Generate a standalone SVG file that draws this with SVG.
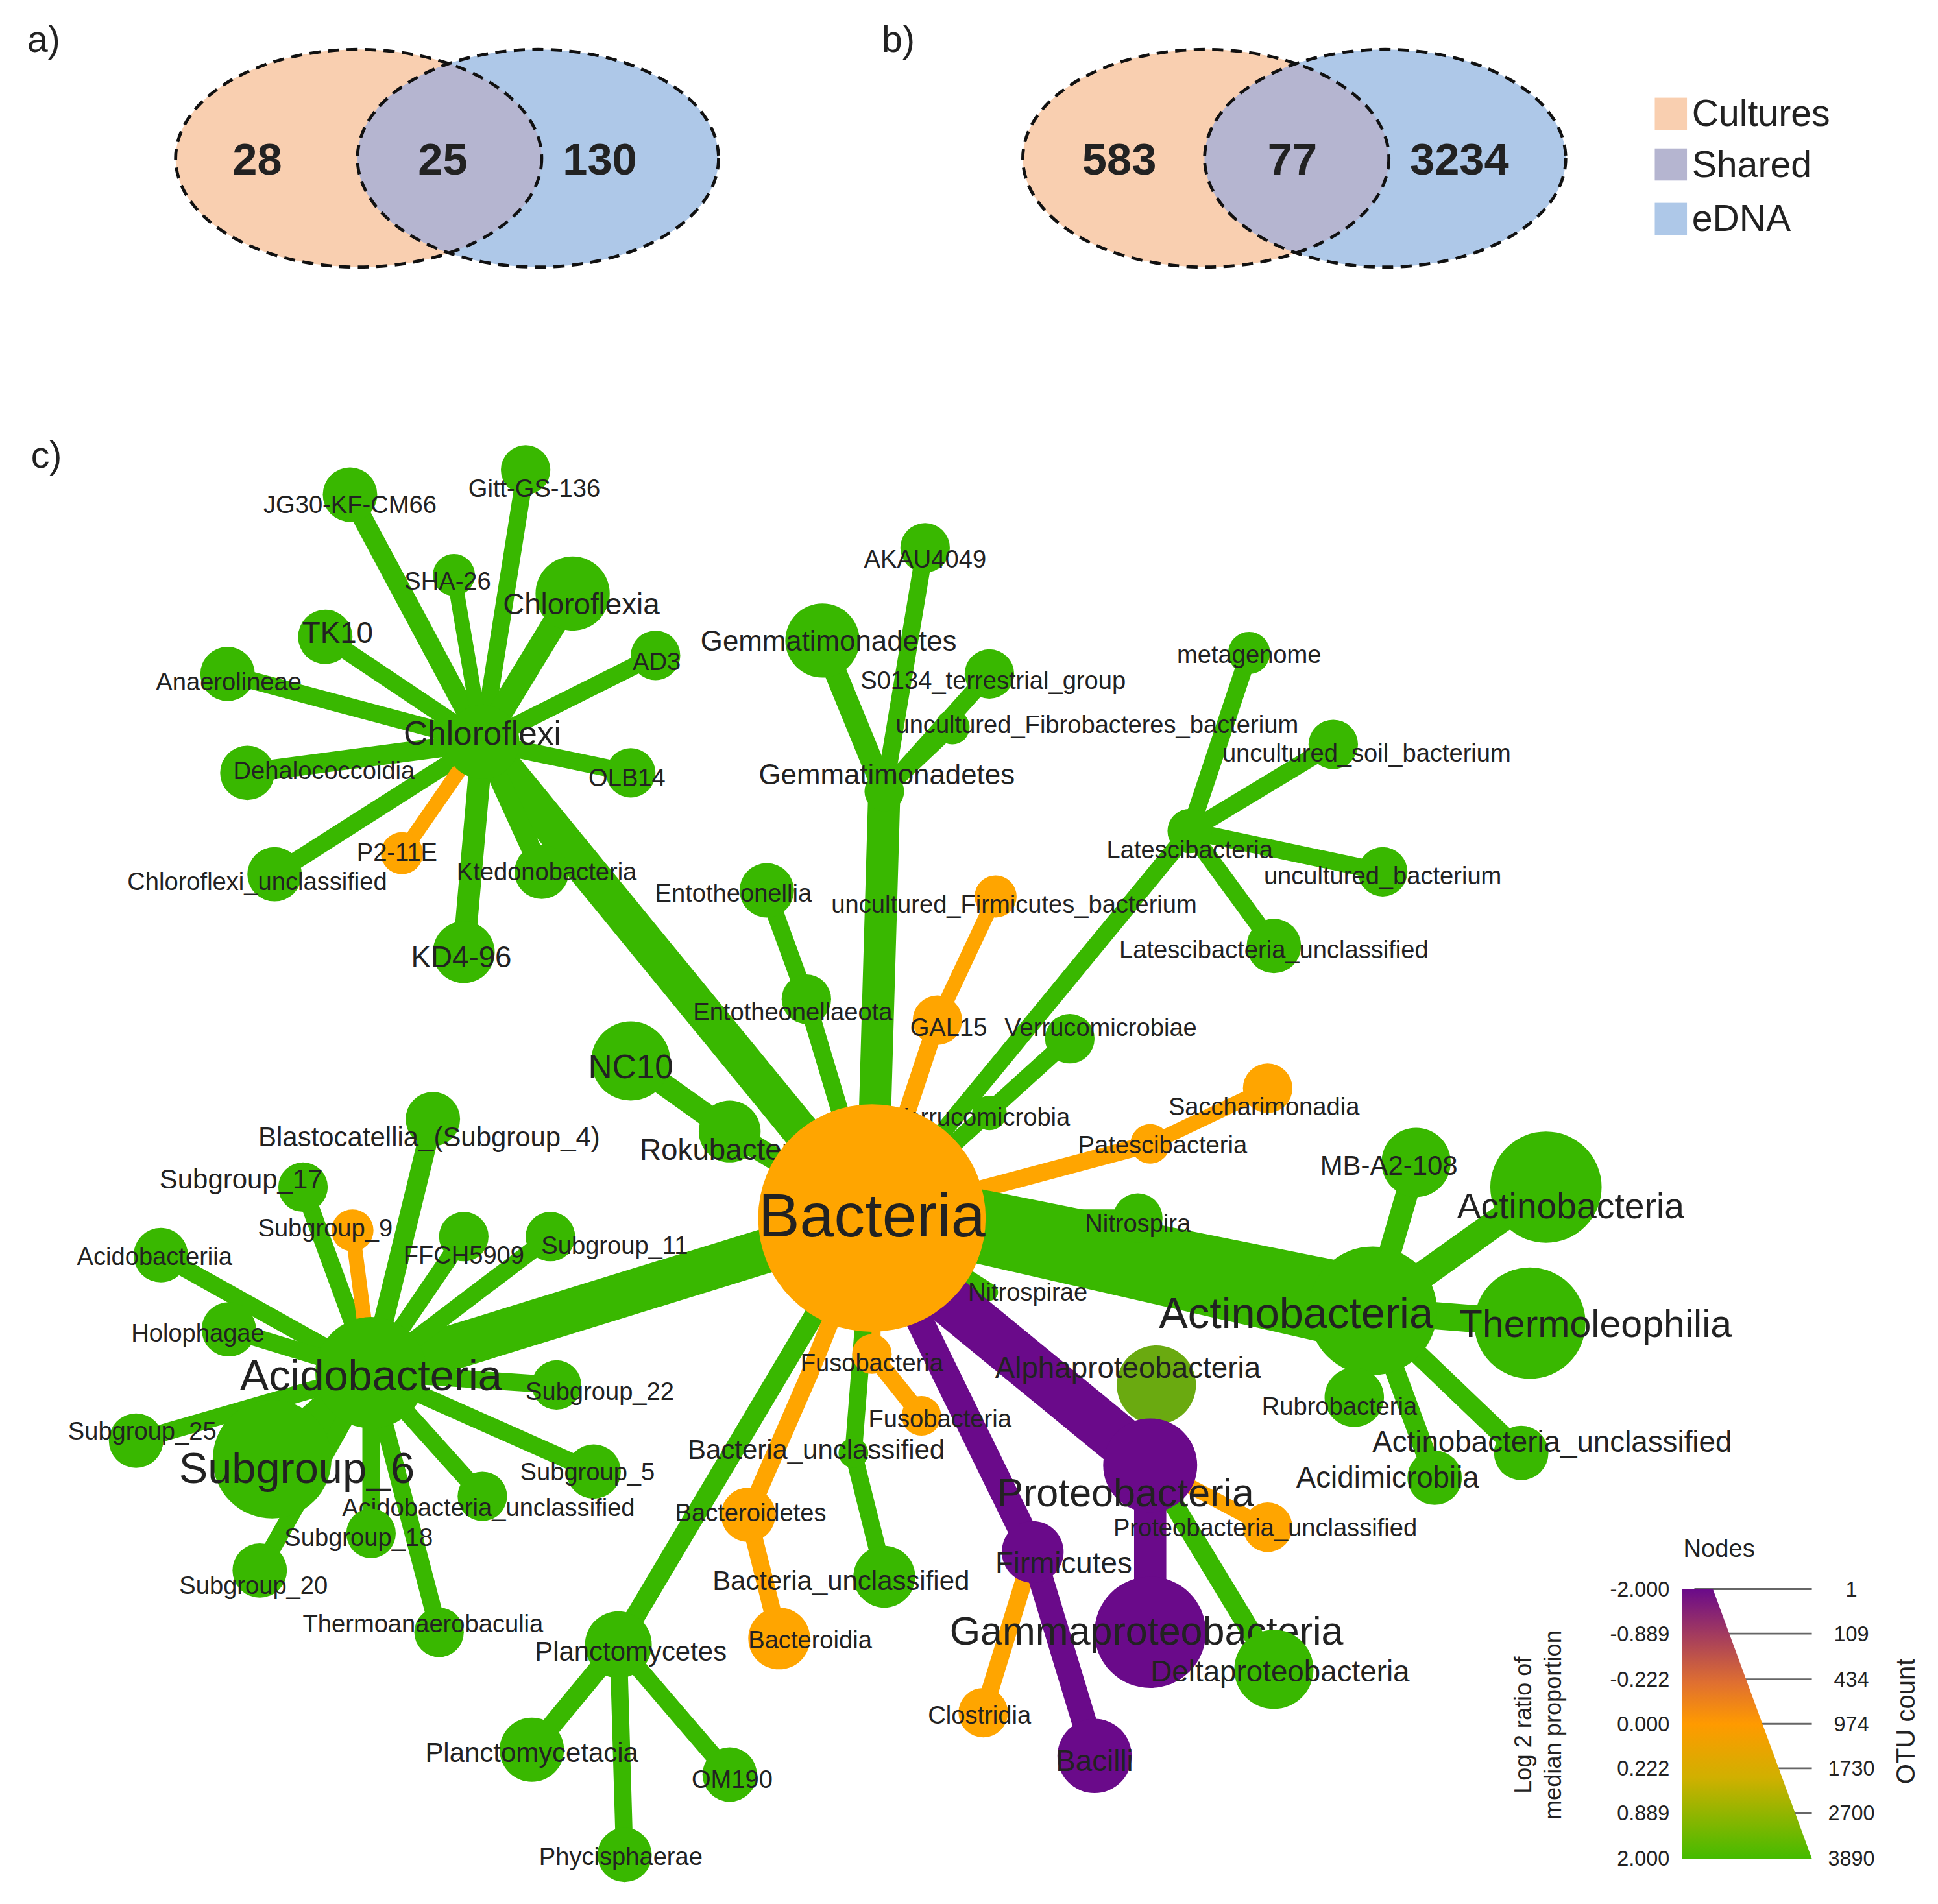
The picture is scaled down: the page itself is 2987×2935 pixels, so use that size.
<svg xmlns="http://www.w3.org/2000/svg" width="2987" height="2935" viewBox="0 0 2987 2935">
<style>
text{font-family:"Liberation Sans",Arial,sans-serif;fill:#222}
.l{font-size:20px;text-anchor:middle}
.m{font-size:24px;text-anchor:middle}
.b{font-size:32px;text-anchor:middle}
.n{font-size:36px;font-weight:bold;text-anchor:middle}
.g{fill:#39b800}.o{fill:#ffa500}.p{fill:#6a0a8a}.y{fill:#6aaa10}
.eg{stroke:#39b800;stroke-linecap:round;fill:none}
.eo{stroke:#ffa500;stroke-linecap:round;fill:none}
.ep{stroke:#6a0a8a;stroke-linecap:round;fill:none}
.ey{stroke:#6aaa10;stroke-linecap:round;fill:none}
.tk{stroke:#666;stroke-width:1.5}
.v{stroke:#111;stroke-width:2.5;stroke-dasharray:9 6;fill:none}
</style>
<defs>
<linearGradient id="grad" x1="0" y1="0" x2="0" y2="1">
<stop offset="0" stop-color="#6a0a8a"/><stop offset="0.35" stop-color="#e07030"/><stop offset="0.5" stop-color="#ff9a00"/><stop offset="0.7" stop-color="#d0b000"/><stop offset="1" stop-color="#44bb00"/>
</linearGradient>
<clipPath id="ca"><ellipse cx="290" cy="128" rx="148" ry="88"/></clipPath>
<clipPath id="cb"><ellipse cx="975" cy="128" rx="148" ry="88"/></clipPath>
</defs>
<g transform="scale(1.9062)">
<g id="venn-a">
<text x="22" y="42" style="font-size:30px">a)</text>
<ellipse cx="290" cy="128" rx="148" ry="88" fill="#f9cfb0"/>
<ellipse cx="435" cy="128" rx="146" ry="88" fill="#aec8e8"/>
<ellipse cx="435" cy="128" rx="146" ry="88" fill="#b5b5d0" clip-path="url(#ca)"/>
<ellipse cx="290" cy="128" rx="148" ry="88" class="v"/>
<ellipse cx="435" cy="128" rx="146" ry="88" class="v"/>
<text x="208" y="141" class="n">28</text><text x="358" y="141" class="n">25</text><text x="485" y="141" class="n">130</text>
</g>
<g id="venn-b">
<text x="713" y="42" style="font-size:30px">b)</text>
<ellipse cx="975" cy="128" rx="148" ry="88" fill="#f9cfb0"/>
<ellipse cx="1120" cy="128" rx="146" ry="88" fill="#aec8e8"/>
<ellipse cx="1120" cy="128" rx="146" ry="88" fill="#b5b5d0" clip-path="url(#cb)"/>
<ellipse cx="975" cy="128" rx="148" ry="88" class="v"/>
<ellipse cx="1120" cy="128" rx="146" ry="88" class="v"/>
<text x="905" y="141" class="n">583</text><text x="1045" y="141" class="n">77</text><text x="1180" y="141" class="n">3234</text>
</g>
<g id="venn-legend">
<rect x="1338" y="79" width="26" height="26" fill="#f9cfb0"/><text x="1368" y="102" style="font-size:30px">Cultures</text>
<rect x="1338" y="120" width="26" height="26" fill="#b5b5d0"/><text x="1368" y="143" style="font-size:30px">Shared</text>
<rect x="1338" y="164" width="26" height="26" fill="#aec8e8"/><text x="1368" y="187" style="font-size:30px">eDNA</text>
</g>
<text x="25" y="378" style="font-size:30px">c)</text>
<g id="connectors">
<line x1="705" y1="985" x2="390" y2="600" class="eg" stroke-width="30"/>
<line x1="390" y1="600" x2="283" y2="400" class="eg" stroke-width="16"/>
<line x1="390" y1="600" x2="425" y2="380" class="eg" stroke-width="14"/>
<line x1="390" y1="600" x2="367" y2="465" class="eg" stroke-width="12"/>
<line x1="390" y1="600" x2="463" y2="480" class="eg" stroke-width="20"/>
<line x1="390" y1="600" x2="263" y2="515" class="eg" stroke-width="14"/>
<line x1="390" y1="600" x2="184" y2="545" class="eg" stroke-width="14"/>
<line x1="390" y1="600" x2="530" y2="530" class="eg" stroke-width="14"/>
<line x1="390" y1="600" x2="200" y2="625" class="eg" stroke-width="16"/>
<line x1="390" y1="600" x2="510" y2="625" class="eg" stroke-width="14"/>
<line x1="390" y1="600" x2="222" y2="707" class="eg" stroke-width="14"/>
<line x1="370" y1="625" x2="325" y2="690" class="eo" stroke-width="12"/>
<line x1="390" y1="600" x2="438" y2="705" class="eg" stroke-width="16"/>
<line x1="390" y1="600" x2="375" y2="770" class="eg" stroke-width="18"/>
<line x1="705" y1="985" x2="715" y2="640" class="eg" stroke-width="26"/>
<line x1="715" y1="640" x2="665" y2="518" class="eg" stroke-width="18"/>
<line x1="715" y1="640" x2="748" y2="443" class="eg" stroke-width="14"/>
<line x1="715" y1="640" x2="800" y2="545" class="eg" stroke-width="14"/>
<line x1="715" y1="640" x2="770" y2="588" class="eg" stroke-width="12"/>
<line x1="705" y1="985" x2="962" y2="672" class="eg" stroke-width="14"/>
<line x1="962" y1="672" x2="1010" y2="528" class="eg" stroke-width="14"/>
<line x1="962" y1="672" x2="1078" y2="602" class="eg" stroke-width="14"/>
<line x1="962" y1="672" x2="1118" y2="705" class="eg" stroke-width="14"/>
<line x1="962" y1="672" x2="1030" y2="765" class="eg" stroke-width="14"/>
<line x1="705" y1="985" x2="652" y2="808" class="eg" stroke-width="14"/>
<line x1="652" y1="808" x2="620" y2="720" class="eg" stroke-width="14"/>
<line x1="705" y1="985" x2="758" y2="825" class="eo" stroke-width="14"/>
<line x1="758" y1="825" x2="805" y2="725" class="eo" stroke-width="12"/>
<line x1="705" y1="985" x2="865" y2="840" class="eg" stroke-width="14"/>
<line x1="705" y1="985" x2="590" y2="915" class="eg" stroke-width="18"/>
<line x1="590" y1="915" x2="510" y2="858" class="eg" stroke-width="18"/>
<line x1="705" y1="985" x2="930" y2="925" class="eo" stroke-width="14"/>
<line x1="930" y1="925" x2="1025" y2="880" class="eo" stroke-width="12"/>
<line x1="705" y1="985" x2="920" y2="985" class="eg" stroke-width="14"/>
<line x1="705" y1="985" x2="800" y2="1045" class="eg" stroke-width="14"/>
<polygon points="760,955 1110,1025 1110,1095 760,1015" class="g"/>
<line x1="1110" y1="1060" x2="1145" y2="940" class="eg" stroke-width="18"/>
<line x1="1110" y1="1060" x2="1250" y2="960" class="eg" stroke-width="22"/>
<line x1="1110" y1="1060" x2="1237" y2="1070" class="eg" stroke-width="22"/>
<line x1="1110" y1="1060" x2="1095" y2="1130" class="eg" stroke-width="16"/>
<line x1="1110" y1="1060" x2="1230" y2="1175" class="eg" stroke-width="16"/>
<line x1="1110" y1="1060" x2="1160" y2="1195" class="eg" stroke-width="16"/>
<line x1="705" y1="985" x2="300" y2="1110" class="eg" stroke-width="36"/>
<line x1="300" y1="1110" x2="350" y2="905" class="eg" stroke-width="16"/>
<line x1="300" y1="1110" x2="245" y2="960" class="eg" stroke-width="14"/>
<line x1="300" y1="1110" x2="285" y2="995" class="eo" stroke-width="12"/>
<line x1="300" y1="1110" x2="375" y2="1000" class="eg" stroke-width="14"/>
<line x1="300" y1="1110" x2="445" y2="1000" class="eg" stroke-width="14"/>
<line x1="300" y1="1110" x2="130" y2="1015" class="eg" stroke-width="14"/>
<line x1="300" y1="1110" x2="185" y2="1075" class="eg" stroke-width="14"/>
<line x1="300" y1="1110" x2="450" y2="1120" class="eg" stroke-width="14"/>
<line x1="300" y1="1110" x2="110" y2="1165" class="eg" stroke-width="14"/>
<line x1="300" y1="1110" x2="220" y2="1180" class="eg" stroke-width="30"/>
<line x1="300" y1="1110" x2="480" y2="1190" class="eg" stroke-width="14"/>
<line x1="300" y1="1110" x2="390" y2="1210" class="eg" stroke-width="14"/>
<line x1="300" y1="1110" x2="300" y2="1240" class="eg" stroke-width="14"/>
<line x1="300" y1="1110" x2="210" y2="1270" class="eg" stroke-width="14"/>
<line x1="300" y1="1110" x2="355" y2="1320" class="eg" stroke-width="14"/>
<line x1="705" y1="985" x2="500" y2="1330" class="eg" stroke-width="16"/>
<line x1="500" y1="1330" x2="430" y2="1415" class="eg" stroke-width="16"/>
<line x1="500" y1="1330" x2="590" y2="1435" class="eg" stroke-width="14"/>
<line x1="500" y1="1330" x2="505" y2="1500" class="eg" stroke-width="14"/>
<line x1="705" y1="985" x2="655" y2="1110" class="eo" stroke-width="14"/>
<line x1="655" y1="1110" x2="605" y2="1225" class="eo" stroke-width="14"/>
<line x1="605" y1="1225" x2="630" y2="1325" class="eo" stroke-width="14"/>
<line x1="705" y1="985" x2="705" y2="1095" class="eo" stroke-width="14"/>
<line x1="705" y1="1095" x2="745" y2="1145" class="eo" stroke-width="14"/>
<line x1="705" y1="985" x2="690" y2="1175" class="eg" stroke-width="14"/>
<line x1="690" y1="1175" x2="715" y2="1275" class="eg" stroke-width="14"/>
<line x1="935" y1="1185" x2="935" y2="1120" class="ey" stroke-width="16"/>
<line x1="930" y1="1185" x2="1025" y2="1235" class="eo" stroke-width="12"/>
<line x1="930" y1="1185" x2="1030" y2="1350" class="eg" stroke-width="16"/>
<line x1="835" y1="1255" x2="795" y2="1385" class="eo" stroke-width="14"/>
<line x1="735" y1="1025" x2="930" y2="1185" class="ep" stroke-width="40"/>
<line x1="930" y1="1185" x2="930" y2="1320" class="ep" stroke-width="26"/>
<line x1="725" y1="1030" x2="835" y2="1255" class="ep" stroke-width="22"/>
<line x1="835" y1="1255" x2="885" y2="1420" class="ep" stroke-width="20"/>
</g>
<g id="n-chloroflexi"><circle cx="390" cy="600" r="30" class="g"/><text x="390" y="602" class="m" style="font-size:27px">Chloroflexi</text></g>
<g id="n-jg30"><circle cx="283" cy="400" r="22" class="g"/><text x="283" y="415" class="l">JG30-KF-CM66</text></g>
<g id="n-gitt"><circle cx="425" cy="380" r="20" class="g"/><text x="432" y="402" class="l">Gitt-GS-136</text></g>
<g id="n-sha26"><circle cx="367" cy="465" r="17" class="g"/><text x="362" y="477" class="l">SHA-26</text></g>
<g id="n-chloroflexia"><circle cx="463" cy="480" r="30" class="g"/><text x="470" y="497" class="m">Chloroflexia</text></g>
<g id="n-tk10"><circle cx="263" cy="515" r="22" class="g"/><text x="273" y="520" class="m">TK10</text></g>
<g id="n-anaerolineae"><circle cx="184" cy="545" r="22" class="g"/><text x="185" y="558" class="l">Anaerolineae</text></g>
<g id="n-ad3"><circle cx="530" cy="530" r="20" class="g"/><text x="531" y="542" class="l">AD3</text></g>
<g id="n-dehalo"><circle cx="200" cy="625" r="22" class="g"/><text x="262" y="630" class="l">Dehalococcoidia</text></g>
<g id="n-olb14"><circle cx="510" cy="625" r="20" class="g"/><text x="507" y="636" class="l">OLB14</text></g>
<g id="n-chlunc"><circle cx="222" cy="707" r="22" class="g"/><text x="208" y="720" class="l">Chloroflexi_unclassified</text></g>
<g id="n-p211e"><circle cx="325" cy="690" r="17" class="o"/><text x="321" y="696" class="l">P2-11E</text></g>
<g id="n-ktedono"><circle cx="438" cy="705" r="22" class="g"/><text x="442" y="712" class="l">Ktedonobacteria</text></g>
<g id="n-kd496"><circle cx="375" cy="770" r="25" class="g"/><text x="373" y="782" class="m">KD4-96</text></g>
<g id="n-gemmaphy"><circle cx="715" cy="640" r="16" class="g"/><text x="717" y="634" class="m" style="font-size:23px">Gemmatimonadetes</text></g>
<g id="n-gemmacls"><circle cx="665" cy="518" r="30" class="g"/><text x="670" y="526" class="m" style="font-size:23px">Gemmatimonadetes</text></g>
<g id="n-akau"><circle cx="748" cy="443" r="20" class="g"/><text x="748" y="459" class="l">AKAU4049</text></g>
<g id="n-s0134"><circle cx="800" cy="545" r="20" class="g"/><text x="803" y="557" class="l">S0134_terrestrial_group</text></g>
<g id="n-fibro"><circle cx="770" cy="588" r="14" class="g"/><text x="887" y="593" class="l">uncultured_Fibrobacteres_bacterium</text></g>
<g id="n-latesci"><circle cx="962" cy="672" r="18" class="g"/><text x="962" y="694" class="l">Latescibacteria</text></g>
<g id="n-metag"><circle cx="1010" cy="528" r="17" class="g"/><text x="1010" y="536" class="l">metagenome</text></g>
<g id="n-unsoil"><circle cx="1078" cy="602" r="20" class="g"/><text x="1105" y="616" class="l">uncultured_soil_bacterium</text></g>
<g id="n-unbact"><circle cx="1118" cy="705" r="20" class="g"/><text x="1118" y="715" class="l">uncultured_bacterium</text></g>
<g id="n-lateunc"><circle cx="1030" cy="765" r="22" class="g"/><text x="1030" y="775" class="l">Latescibacteria_unclassified</text></g>
<g id="n-entophy"><circle cx="652" cy="808" r="20" class="g"/><text x="641" y="825" class="l">Entotheonellaeota</text></g>
<g id="n-entocls"><circle cx="620" cy="720" r="22" class="g"/><text x="593" y="729" class="l">Entotheonellia</text></g>
<g id="n-gal15"><circle cx="758" cy="825" r="20" class="o"/><text x="767" y="838" class="l">GAL15</text></g>
<g id="n-unfirm"><circle cx="805" cy="725" r="17" class="o"/><text x="820" y="738" class="l">uncultured_Firmicutes_bacterium</text></g>
<g id="n-verrucls"><circle cx="865" cy="840" r="20" class="g"/><text x="890" y="838" class="l">Verrucomicrobiae</text></g>
<g id="n-roku"><circle cx="590" cy="915" r="25" class="g"/><text x="588" y="938" class="m">Rokubacteria</text></g>
<g id="n-nc10"><circle cx="510" cy="858" r="32" class="g"/><text x="510" y="872" class="m" style="font-size:27px">NC10</text></g>
<g id="n-pates"><circle cx="930" cy="925" r="16" class="o"/><text x="940" y="933" class="l">Patescibacteria</text></g>
<g id="n-saccha"><circle cx="1025" cy="880" r="20" class="o"/><text x="1022" y="902" class="l">Saccharimonadia</text></g>
<g id="n-nitrospira"><circle cx="920" cy="985" r="20" class="g"/><text x="920" y="996" class="l">Nitrospira</text></g>
<g id="n-actphy"><circle cx="1110" cy="1060" r="52" class="g"/><text x="1048" y="1074" class="b" style="font-size:35px">Actinobacteria</text></g>
<g id="n-mba2"><circle cx="1145" cy="940" r="28" class="g"/><text x="1123" y="950" class="l" style="font-size:22px">MB-A2-108</text></g>
<g id="n-actcls"><circle cx="1250" cy="960" r="45" class="g"/><text x="1270" y="985" class="m" style="font-size:29px">Actinobacteria</text></g>
<g id="n-thermo"><circle cx="1237" cy="1070" r="45" class="g"/><text x="1290" y="1081" class="m" style="font-size:31px">Thermoleophilia</text></g>
<g id="n-rubro"><circle cx="1095" cy="1130" r="24" class="g"/><text x="1083" y="1144" class="l">Rubrobacteria</text></g>
<g id="n-actunc"><circle cx="1230" cy="1175" r="22" class="g"/><text x="1255" y="1174" class="m">Actinobacteria_unclassified</text></g>
<g id="n-acidimi"><circle cx="1160" cy="1195" r="22" class="g"/><text x="1122" y="1203" class="m">Acidimicrobiia</text></g>
<g id="n-acidophy"><circle cx="300" cy="1110" r="45" class="g"/><text x="300" y="1124" class="b" style="font-size:35px">Acidobacteria</text></g>
<g id="n-blasto"><circle cx="350" cy="905" r="22" class="g"/><text x="347" y="927" class="m" style="font-size:22px">Blastocatellia_(Subgroup_4)</text></g>
<g id="n-sg17"><circle cx="245" cy="960" r="20" class="g"/><text x="195" y="961" class="m" style="font-size:22px">Subgroup_17</text></g>
<g id="n-sg9"><circle cx="285" cy="995" r="17" class="o"/><text x="263" y="1000" class="l">Subgroup_9</text></g>
<g id="n-ffch"><circle cx="375" cy="1000" r="20" class="g"/><text x="375" y="1022" class="l">FFCH5909</text></g>
<g id="n-sg11"><circle cx="445" cy="1000" r="20" class="g"/><text x="497" y="1014" class="l">Subgroup_11</text></g>
<g id="n-acidoi"><circle cx="130" cy="1015" r="22" class="g"/><text x="125" y="1023" class="l">Acidobacteriia</text></g>
<g id="n-holo"><circle cx="185" cy="1075" r="22" class="g"/><text x="160" y="1085" class="l">Holophagae</text></g>
<g id="n-sg22"><circle cx="450" cy="1120" r="20" class="g"/><text x="485" y="1132" class="l">Subgroup_22</text></g>
<g id="n-sg25"><circle cx="110" cy="1165" r="22" class="g"/><text x="115" y="1164" class="l">Subgroup_25</text></g>
<g id="n-sg6"><circle cx="220" cy="1180" r="48" class="g"/><text x="240" y="1199" class="b" style="font-size:35px">Subgroup_6</text></g>
<g id="n-sg5"><circle cx="480" cy="1190" r="22" class="g"/><text x="475" y="1197" class="l">Subgroup_5</text></g>
<g id="n-acidounc"><circle cx="390" cy="1210" r="20" class="g"/><text x="395" y="1226" class="l">Acidobacteria_unclassified</text></g>
<g id="n-sg18"><circle cx="300" cy="1240" r="20" class="g"/><text x="290" y="1250" class="l">Subgroup_18</text></g>
<g id="n-sg20"><circle cx="210" cy="1270" r="22" class="g"/><text x="205" y="1289" class="l">Subgroup_20</text></g>
<g id="n-thermoan"><circle cx="355" cy="1320" r="20" class="g"/><text x="342" y="1320" class="l">Thermoanaerobaculia</text></g>
<g id="n-plancto"><circle cx="500" cy="1330" r="27" class="g"/><text x="510" y="1343" class="l" style="font-size:22px">Planctomycetes</text></g>
<g id="n-planctia"><circle cx="430" cy="1415" r="26" class="g"/><text x="430" y="1425" class="l" style="font-size:22px">Planctomycetacia</text></g>
<g id="n-om190"><circle cx="590" cy="1435" r="22" class="g"/><text x="592" y="1446" class="l">OM190</text></g>
<g id="n-phyci"><circle cx="505" cy="1500" r="22" class="g"/><text x="502" y="1508" class="l">Phycisphaerae</text></g>
<g id="n-bacteroidetes"><circle cx="605" cy="1225" r="22" class="o"/><text x="607" y="1230" class="l">Bacteroidetes</text></g>
<g id="n-bacteroidia"><circle cx="630" cy="1325" r="25" class="o"/><text x="655" y="1333" class="l">Bacteroidia</text></g>
<g id="n-fusocls"><circle cx="705" cy="1095" r="16" class="o"/><text x="705" y="1109" class="l">Fusobacteria</text></g>
<g id="n-fusophy"><circle cx="745" cy="1145" r="16" class="o"/><text x="760" y="1154" class="l">Fusobacteria</text></g>
<g id="n-bunc1"><circle cx="690" cy="1175" r="12" class="g"/><text x="660" y="1180" class="l" style="font-size:22px">Bacteria_unclassified</text></g>
<g id="n-bunc2"><circle cx="715" cy="1275" r="25" class="g"/><text x="680" y="1286" class="l" style="font-size:22px">Bacteria_unclassified</text></g>
<g id="n-alpha"><circle cx="935" cy="1120" r="32" class="y"/><text x="912" y="1114" class="m">Alphaproteobacteria</text></g>
<g id="n-proteo"><circle cx="930" cy="1185" r="38" class="p"/><text x="910" y="1218" class="b">Proteobacteria</text></g>
<g id="n-protunc"><circle cx="1025" cy="1235" r="20" class="o"/><text x="1023" y="1242" class="l">Proteobacteria_unclassified</text></g>
<g id="n-gamma"><circle cx="930" cy="1320" r="45" class="p"/><text x="927" y="1330" class="b">Gammaproteobacteria</text></g>
<g id="n-delta"><circle cx="1030" cy="1350" r="32" class="g"/><text x="1035" y="1360" class="m">Deltaproteobacteria</text></g>
<g id="n-firm"><circle cx="835" cy="1255" r="25" class="p"/><text x="860" y="1272" class="m">Firmicutes</text></g>
<g id="n-bacilli"><circle cx="885" cy="1420" r="30" class="p"/><text x="885" y="1432" class="m">Bacilli</text></g>
<g id="n-clostr"><circle cx="795" cy="1385" r="20" class="o"/><text x="792" y="1394" class="l">Clostridia</text></g>
<g id="n-verruphy"><circle cx="800" cy="900" r="14" class="g"/><text x="793" y="910" class="l">Verrucomicrobia</text></g>
<g id="n-bacteria"><circle cx="705" cy="985" r="92" class="o"/><text x="705" y="1000" style="font-size:50px;text-anchor:middle">Bacteria</text></g>
<g id="n-nitrospirae"><text x="831" y="1052" class="l">Nitrospirae</text></g>
<g id="legend">
<text x="1390" y="1259" class="l">Nodes</text>
<line x1="1370" y1="1285" x2="1465" y2="1285" class="tk"/>
<line x1="1395" y1="1321" x2="1465" y2="1321" class="tk"/>
<line x1="1408" y1="1358" x2="1465" y2="1358" class="tk"/>
<line x1="1422" y1="1394" x2="1465" y2="1394" class="tk"/>
<line x1="1435" y1="1430" x2="1465" y2="1430" class="tk"/>
<line x1="1448" y1="1466" x2="1465" y2="1466" class="tk"/>
<polygon points="1360,1285 1385,1285 1465,1503 1360,1503" fill="url(#grad)"/>
<g style="font-size:17px;text-anchor:end">
<text x="1350" y="1291">-2.000</text><text x="1350" y="1327">-0.889</text><text x="1350" y="1364">-0.222</text><text x="1350" y="1400">0.000</text><text x="1350" y="1436">0.222</text><text x="1350" y="1472">0.889</text><text x="1350" y="1509">2.000</text>
</g>
<g style="font-size:17px;text-anchor:middle">
<text x="1497" y="1291">1</text><text x="1497" y="1327">109</text><text x="1497" y="1364">434</text><text x="1497" y="1400">974</text><text x="1497" y="1436">1730</text><text x="1497" y="1472">2700</text><text x="1497" y="1509">3890</text>
</g>
<text transform="translate(1238,1395) rotate(-90)" style="font-size:19px;text-anchor:middle">Log 2 ratio of</text>
<text transform="translate(1262,1395) rotate(-90)" style="font-size:19px;text-anchor:middle">median proportion</text>
<text transform="translate(1548,1392) rotate(-90)" style="font-size:21px;text-anchor:middle">OTU count</text>
</g>
</g>
</svg>
